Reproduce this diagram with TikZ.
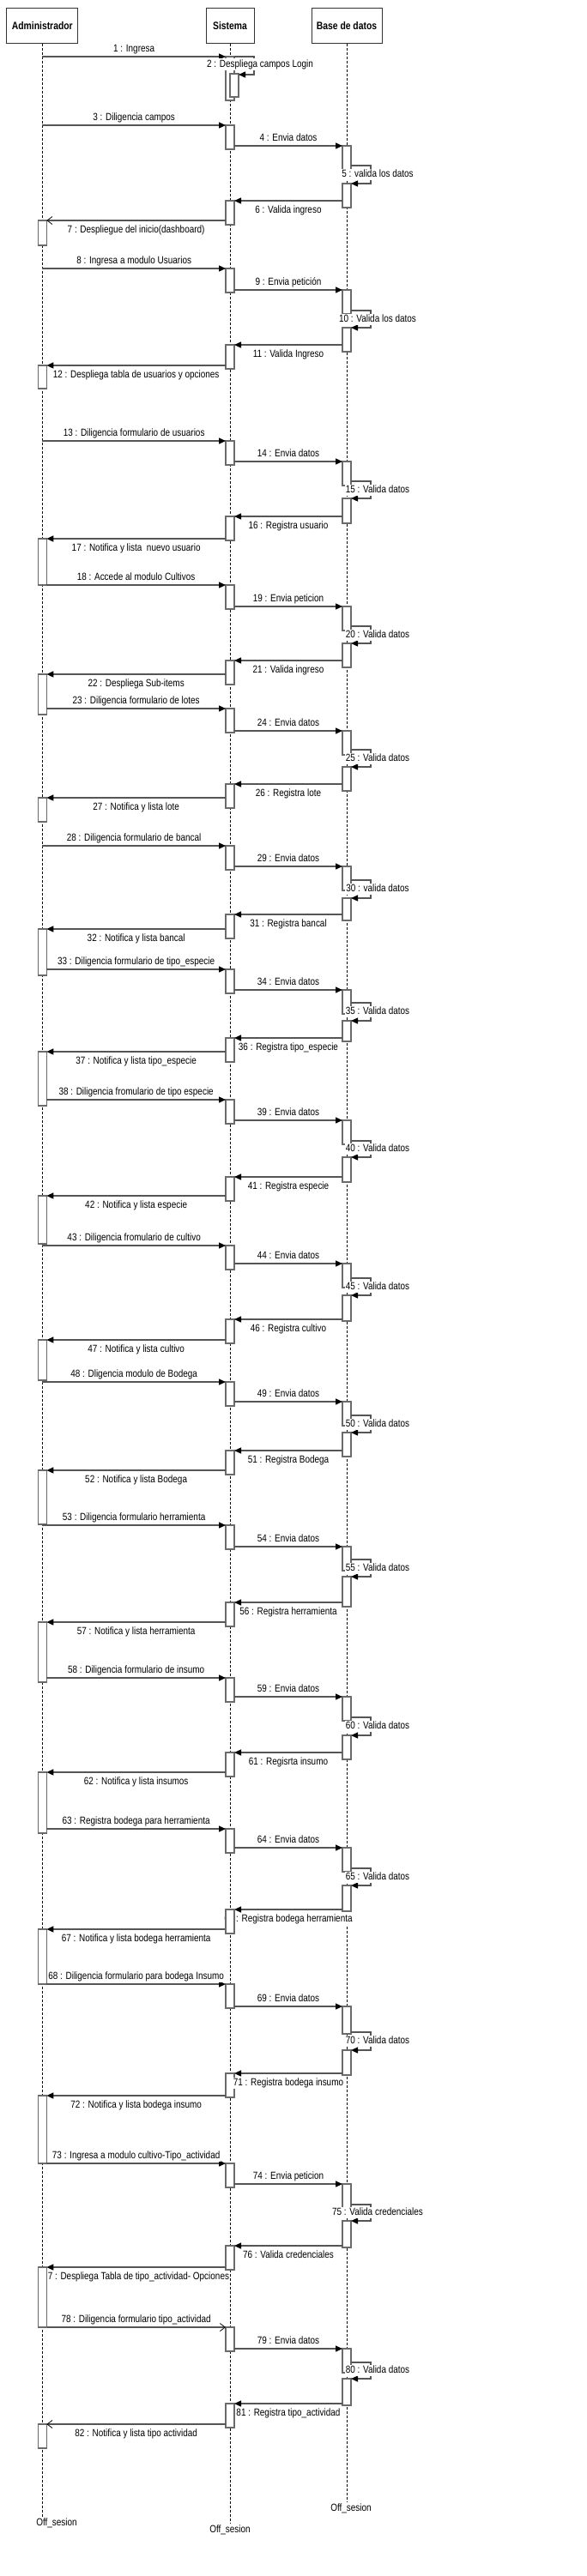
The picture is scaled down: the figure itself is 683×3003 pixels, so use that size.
\documentclass[tikz,border=0pt]{standalone}
\usepackage{fontspec}
\setmainfont{Liberation Sans}[FakeStretch=0.83]
\usetikzlibrary{arrows.meta}

\definecolor{linea}{HTML}{555555}
\definecolor{borde}{HTML}{6B6B6B}

% 激活条: 生命线, 上 y, 下 y
\newcommand{\barra}[3]{\draw[activa] (#1L |- 0,#2) rectangle (#1R |- 0,#3);}
% 消息: [样式] y, 起点, 终点, 标签位置, 文字
\newcommand{\flecha}[6][mensaje]{\draw[#1] (#3 |- 0,#2) -- node[etiqueta,#5] {#6} (#4 |- 0,#2);}
% 数据库自调用: 出发 y, 返回 y, 文字
\newcommand{\bucle}[3]{\draw[mensaje] (bdR |- 0,#1) -| (bdLoop |- 0,#2) -- (bdR |- 0,#2);
  \node[etiqueta] at (440,{(#1+#2)/2}) {#3};}

\begin{document}
\begin{tikzpicture}[x=1pt,y=-1pt,
    cabecera/.style={draw=black!80,fill=white,line width=1pt,minimum height=41pt,inner sep=2pt,font=\fontsize{12.5}{15}\selectfont\bfseries},
    vida/.style={draw=black,line width=0.6pt,dash pattern=on 3pt off 2pt},
    activa/.style={draw=borde,fill=white,line width=1.1pt},
    mensaje/.style={draw=linea,line width=1.3pt,-{Triangle[length=8pt,width=7pt,black]}},
    respuesta/.style={draw=linea,line width=1.3pt,-{Straight Barb[length=6pt,width=9pt,line width=0.8pt,black]}},
    etiqueta/.style={fill=white,inner sep=1pt,text height=8.5pt,text depth=2.5pt,font=\fontsize{12}{14}\selectfont},
    sobre/.style={yshift=9pt},
    bajo/.style={yshift=-11pt},
    fin/.style={inner sep=1pt,text height=8.5pt,text depth=2.5pt,font=\fontsize{12}{14}\selectfont}]

    \useasboundingbox (0,0) rectangle (683,3003); % 画布

    % 参与者
    \node[cabecera,minimum width=83pt] (adm) at (49.3,29.7) {Administrador};
    \node[cabecera,minimum width=56pt] (sis) at (268,29.7) {Sistema};
    \node[cabecera,minimum width=82pt] (bd) at (404,29.7) {Base de datos};

    % 激活条两边
    \coordinate (admL) at ([xshift=-5pt]adm.south); \coordinate (admR) at ([xshift=5pt]adm.south);
    \coordinate (sisL) at ([xshift=-5pt]sis.south); \coordinate (sisR) at ([xshift=5pt]sis.south);
    \coordinate (bdL) at ([xshift=-5pt]bd.south);   \coordinate (bdR) at ([xshift=5pt]bd.south);
    \coordinate (sisN) at ([xshift=10pt]sis.south);    % 嵌套激活条
    \coordinate (sisLoop) at ([xshift=28pt]sis.south); % 自调用外侧
    \coordinate (bdLoop) at ([xshift=28pt]bd.south);

    % 生命线
    \node[fin] (finAdm) at (66,2941) {Off\_sesion};
    \node[fin] (finSis) at (268,2949) {Off\_sesion};
    \node[fin] (finBd) at (409,2924) {Off\_sesion};
    \draw[vida] (adm.south) -- (adm |- finAdm.north);
    \draw[vida] (sis.south) -- (sis |- finSis.north);
    \draw[vida] (bd.south) -- (bd |- finBd.north);

    % 激活条
    \barra{sis}{66}{117}
    \draw[activa] (sis |- 0,86) rectangle (sisN |- 0,113);
    \foreach \y in {146,234,313,402,514,602,682,770,826,914,986,1066,1130,1210,1282,1372,1452,1538,1611,1691,1778,1868,1956,2043,2132,2226,2313,2417,2522,2618,2713,2802}
        {\pgfmathsetmacro\z{\y+28}\barra{sis}{\y}{\z}}
    \foreach \a/\b in {170/198,338/366,538/566,707/735,852/880,1010/1038,1154/1182,1306/1334,1473/1501,1634/1662,1803/1831,1978/2006,2154/2182,2339/2371,2546/2574,2738/2766}
        {\barra{bd}{\a}{\b}}
    \foreach \a/\b in {214/242,382/410,581/610,750/778,894/922,1047/1073,1190/1214,1349/1378,1510/1540,1670/1698,1838/1873,2023/2051,2198/2228,2390/2419,2589/2620,2773/2804}
        {\barra{bd}{\a}{\b}}
    \foreach \a/\b in {257/286,426/453,628/682,786/833,930/958,1083/1137,1226/1289,1394/1450,1562/1609,1714/1777,1891/1961,2066/2137,2249/2313,2443/2522,2643/2713,2826/2854}
        {\barra{adm}{\a}{\b}}

    % 消息
    \flecha{66}{adm}{sisL}{sobre}{1 : Ingresa}
    \draw[mensaje] (sisR |- 0,66) -| (sisLoop |- 0,87) -- (sisN |- 0,87); % 2
    \node[etiqueta] at (303,75) {2 : Despliega campos Login};
    \flecha{146}{adm}{sisL}{sobre}{3 : Diligencia campos}
    \flecha{170}{sisR}{bdL}{sobre}{4 : Envia datos}
    \bucle{193}{214}{5 : valida los datos}
    \flecha{234}{bdL}{sisR}{bajo}{6 : Valida ingreso}
    \flecha[respuesta]{257}{sisL}{admR}{bajo}{7 : Despliegue del inicio(dashboard)}
    \flecha{313}{adm}{sisL}{sobre}{8 : Ingresa a modulo Usuarios}
    \flecha{338}{sisR}{bdL}{sobre}{9 : Envia petición}
    \bucle{362}{382}{10 : Valida los datos}
    \flecha{402}{bdL}{sisR}{bajo}{11 : Valida Ingreso}
    \flecha{426}{sisL}{admR}{bajo}{12 : Despliega tabla de usuarios y opciones}
    \flecha{514}{adm}{sisL}{sobre}{13 : Diligencia formulario de usuarios}
    \flecha{538}{sisR}{bdL}{sobre}{14 : Envia datos}
    \bucle{561}{581}{15 : Valida datos}
    \flecha{602}{bdL}{sisR}{bajo}{16 : Registra usuario}
    \flecha{628}{sisL}{admR}{bajo}{17 : Notifica y lista~ nuevo usuario}
    \flecha{682}{admR}{sisL}{sobre}{18 : Accede al modulo Cultivos}
    \flecha{707}{sisR}{bdL}{sobre}{19 : Envia peticion}
    \bucle{730}{750}{20 : Valida datos}
    \flecha{770}{bdL}{sisR}{bajo}{21 : Valida ingreso}
    \flecha{786}{sisL}{admR}{bajo}{22 : Despliega Sub-items}
    \flecha{826}{admR}{sisL}{sobre}{23 : Diligencia formulario de lotes}
    \flecha{852}{sisR}{bdL}{sobre}{24 : Envia datos}
    \bucle{874}{894}{25 : Valida datos}
    \flecha{914}{bdL}{sisR}{bajo}{26 : Registra lote}
    \flecha{930}{sisL}{admR}{bajo}{27 : Notifica y lista lote}
    \flecha{986}{adm}{sisL}{sobre}{28 : Diligencia formulario de bancal}
    \flecha{1010}{sisR}{bdL}{sobre}{29 : Envia datos}
    \bucle{1026}{1047}{30 : valida datos}
    \flecha{1066}{bdL}{sisR}{bajo}{31 : Registra bancal}
    \flecha{1083}{sisL}{admR}{bajo}{32 : Notifica y lista bancal}
    \flecha{1130}{admR}{sisL}{sobre}{33 : Diligencia formulario de tipo\_especie}
    \flecha{1154}{sisR}{bdL}{sobre}{34 : Envia datos}
    \bucle{1169}{1190}{35 : Valida datos}
    \flecha{1210}{bdL}{sisR}{bajo}{36 : Registra tipo\_especie}
    \flecha{1226}{sisL}{admR}{bajo}{37 : Notifica y lista tipo\_especie}
    \flecha{1282}{admR}{sisL}{sobre}{38 : Diligencia fromulario de tipo especie}
    \flecha{1306}{sisR}{bdL}{sobre}{39 : Envia datos}
    \bucle{1330}{1349}{40 : Valida datos}
    \flecha{1372}{bdL}{sisR}{bajo}{41 : Registra especie}
    \flecha{1394}{sisL}{admR}{bajo}{42 : Notifica y lista especie}
    \flecha{1452}{adm}{sisL}{sobre}{43 : Diligencia fromulario de cultivo}
    \flecha{1473}{sisR}{bdL}{sobre}{44 : Envia datos}
    \bucle{1490}{1510}{45 : Valida datos}
    \flecha{1538}{bdL}{sisR}{bajo}{46 : Registra cultivo}
    \flecha{1562}{sisL}{admR}{bajo}{47 : Notifica y lista cultivo}
    \flecha{1611}{adm}{sisL}{sobre}{48 : Dligencia modulo de Bodega}
    \flecha{1634}{sisR}{bdL}{sobre}{49 : Envia datos}
    \bucle{1650}{1670}{50 : Valida datos}
    \flecha{1691}{bdL}{sisR}{bajo}{51 : Registra Bodega}
    \flecha{1714}{sisL}{admR}{bajo}{52 : Notifica y lista Bodega}
    \flecha{1778}{adm}{sisL}{sobre}{53 : Diligencia formulario herramienta}
    \flecha{1803}{sisR}{bdL}{sobre}{54 : Envia datos}
    \bucle{1818}{1838}{55 : Valida datos}
    \flecha{1868}{bdL}{sisR}{bajo}{56 : Registra herramienta}
    \flecha{1891}{sisL}{admR}{bajo}{57 : Notifica y lista herramienta}
    \flecha{1956}{admR}{sisL}{sobre}{58 : Diligencia formulario de insumo}
    \flecha{1978}{sisR}{bdL}{sobre}{59 : Envia datos}
    \bucle{2002}{2023}{60 : Valida datos}
    \flecha{2043}{bdL}{sisR}{bajo}{61 : Regisrta insumo}
    \flecha{2066}{sisL}{admR}{bajo}{62 : Notifica y lista insumos}
    \flecha{2132}{admR}{sisL}{sobre}{63 : Registra bodega para herramienta}
    \flecha{2154}{sisR}{bdL}{sobre}{64 : Envia datos}
    \bucle{2178}{2198}{65 : Valida datos}
    \flecha{2226}{bdL}{sisR}{bajo}{66 : Registra bodega herramienta}
    \flecha{2249}{sisL}{admR}{bajo}{67 : Notifica y lista bodega herramienta}
    \flecha{2313}{admR}{sisL}{sobre}{68 : Diligencia formulario para bodega Insumo}
    \flecha{2339}{sisR}{bdL}{sobre}{69 : Envia datos}
    \bucle{2369}{2390}{70 : Valida datos}
    \flecha{2417}{bdL}{sisR}{bajo}{71 : Registra bodega insumo}
    \flecha{2443}{sisL}{admR}{bajo}{72 : Notifica y lista bodega insumo}
    \flecha{2522}{admR}{sisL}{sobre}{73 : Ingresa a modulo cultivo-Tipo\_actividad}
    \flecha{2546}{sisR}{bdL}{sobre}{74 : Envia peticion}
    \bucle{2570}{2589}{75 : Valida credenciales}
    \flecha{2618}{bdL}{sisR}{bajo}{76 : Valida credenciales}
    \flecha{2643}{sisL}{admR}{bajo}{77 : Despliega Tabla de tipo\_actividad- Opciones}
    \flecha[respuesta]{2713}{admR}{sisL}{sobre}{78 : Diligencia formulario tipo\_actividad}
    \flecha{2738}{sisR}{bdL}{sobre}{79 : Envia datos}
    \bucle{2754}{2773}{80 : Valida datos}
    \flecha{2802}{bdL}{sisR}{bajo}{81 : Registra tipo\_actividad}
    \flecha[respuesta]{2826}{sisL}{admR}{bajo}{82 : Notifica y lista tipo actividad}

    % 这两条激活条盖住标签开头
    \barra{sis}{2226}{2254}
    \barra{adm}{2643}{2713}

\end{tikzpicture}
\end{document}
